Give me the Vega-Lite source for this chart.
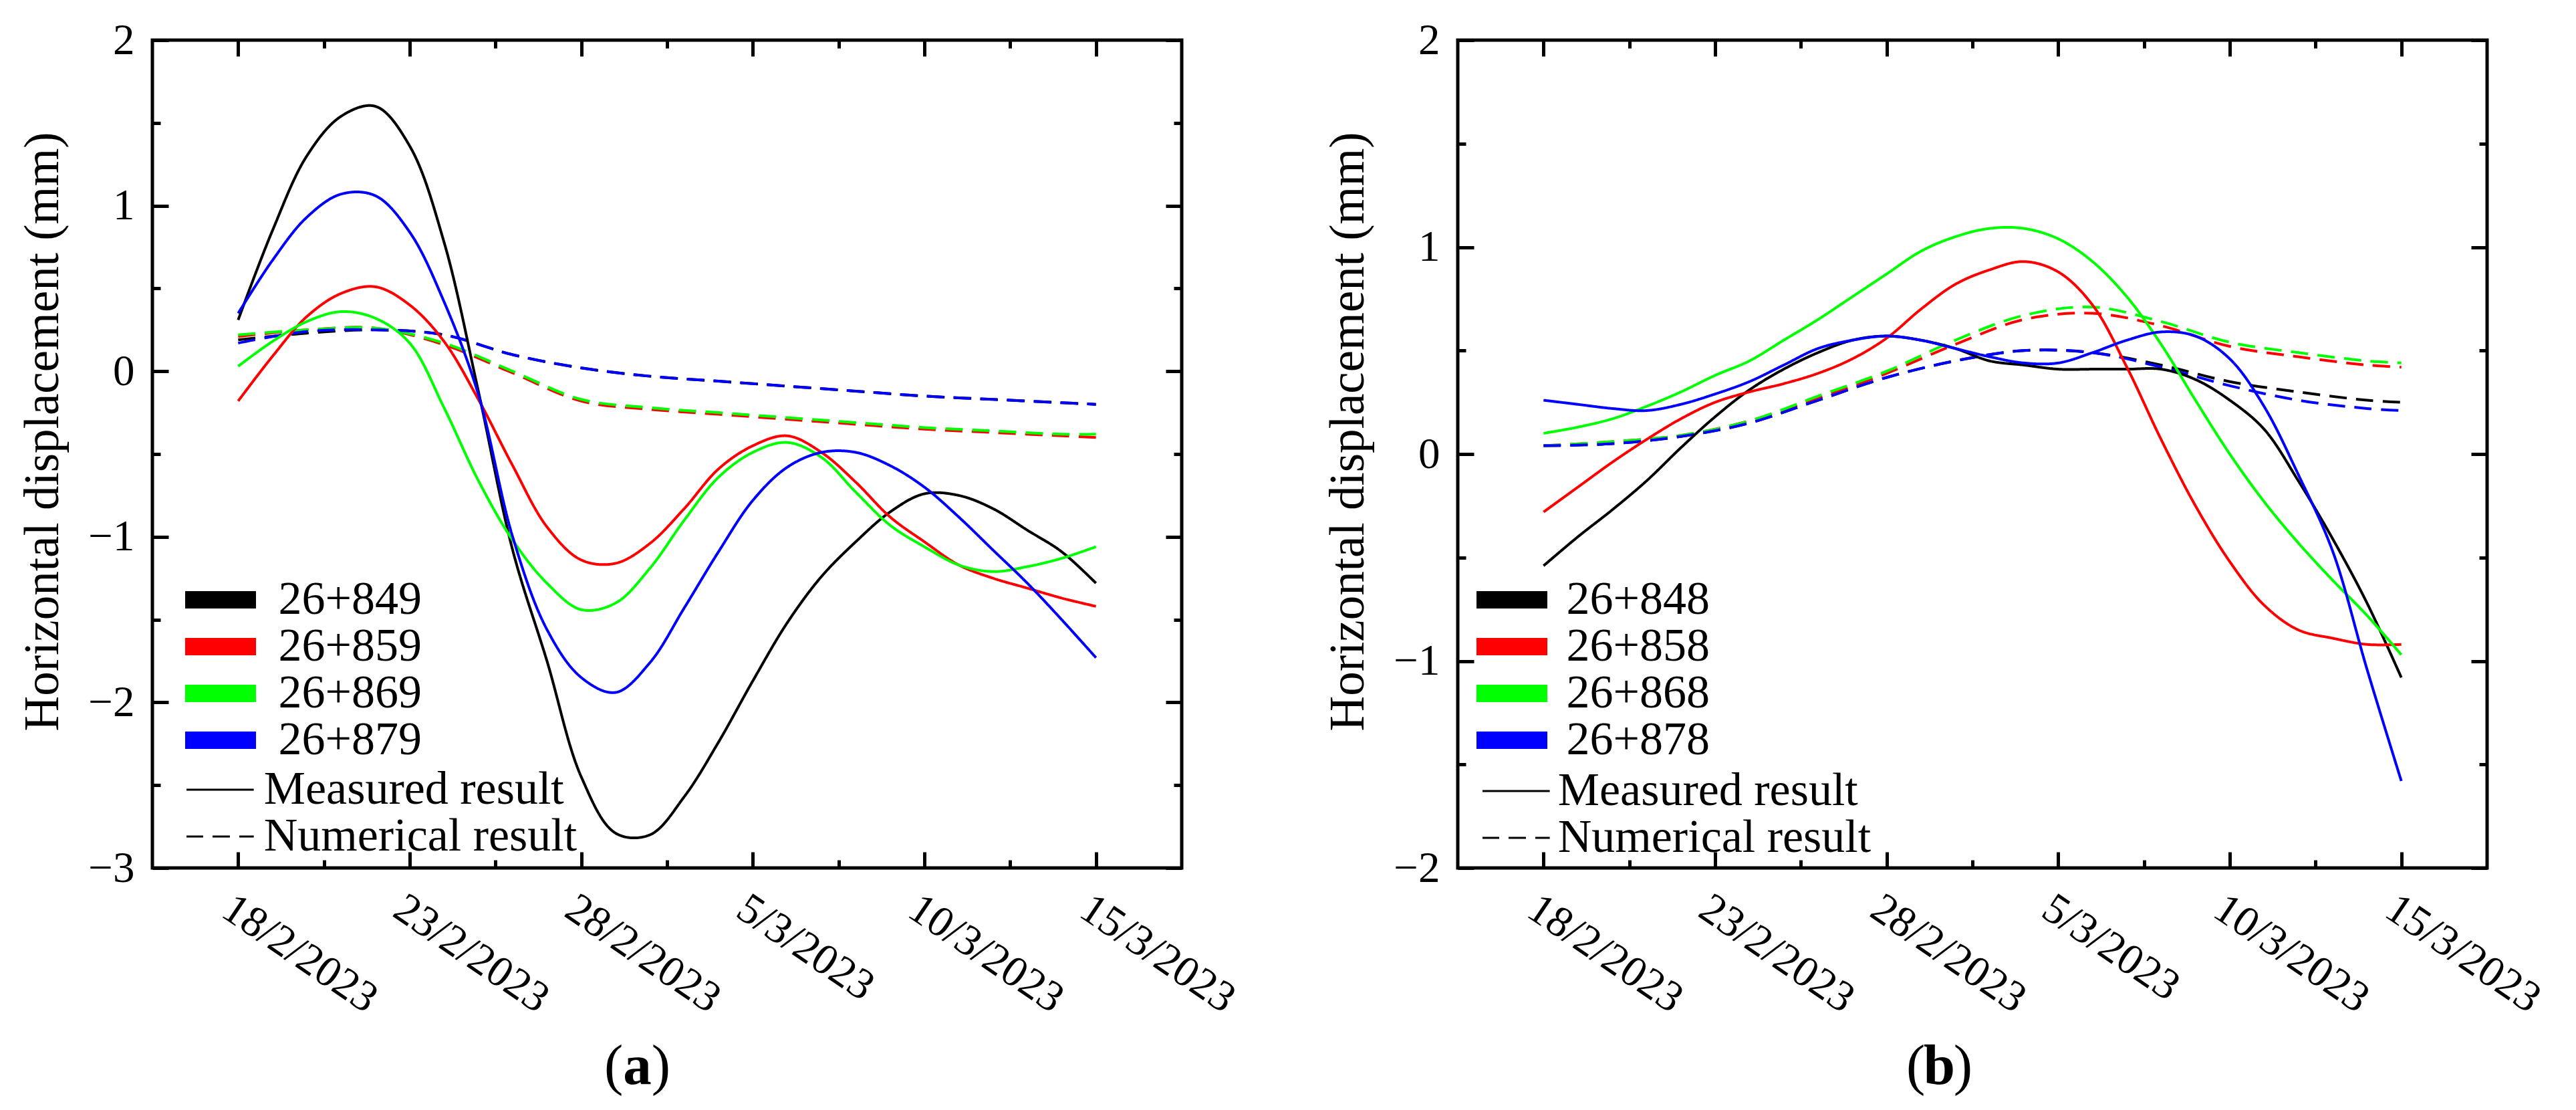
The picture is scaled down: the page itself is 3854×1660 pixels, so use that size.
{
  "$schema": "https://vega.github.io/schema/vega-lite/v6.json",
  "background": "white",
  "padding": {"left": 26, "top": 25, "right": 10, "bottom": 10},
  "bounds": "flush",
  "spacing": 413,
  "datasets": {
    "a": [
      {"date": "2023-02-18", "station": "26+849", "result": "Numerical result", "value": 0.19},
      {"date": "2023-02-20", "station": "26+849", "result": "Numerical result", "value": 0.23},
      {"date": "2023-02-22", "station": "26+849", "result": "Numerical result", "value": 0.25},
      {"date": "2023-02-24", "station": "26+849", "result": "Numerical result", "value": 0.22},
      {"date": "2023-02-26", "station": "26+849", "result": "Numerical result", "value": 0.10},
      {"date": "2023-02-28", "station": "26+849", "result": "Numerical result", "value": 0.02},
      {"date": "2023-03-02", "station": "26+849", "result": "Numerical result", "value": -0.03},
      {"date": "2023-03-04", "station": "26+849", "result": "Numerical result", "value": -0.06},
      {"date": "2023-03-06", "station": "26+849", "result": "Numerical result", "value": -0.09},
      {"date": "2023-03-08", "station": "26+849", "result": "Numerical result", "value": -0.12},
      {"date": "2023-03-10", "station": "26+849", "result": "Numerical result", "value": -0.15},
      {"date": "2023-03-12", "station": "26+849", "result": "Numerical result", "value": -0.17},
      {"date": "2023-03-14", "station": "26+849", "result": "Numerical result", "value": -0.19},
      {"date": "2023-03-15", "station": "26+849", "result": "Numerical result", "value": -0.20},
      {"date": "2023-02-18", "station": "26+859", "result": "Numerical result", "value": 0.21},
      {"date": "2023-02-20", "station": "26+859", "result": "Numerical result", "value": 0.25},
      {"date": "2023-02-22", "station": "26+859", "result": "Numerical result", "value": 0.26},
      {"date": "2023-02-24", "station": "26+859", "result": "Numerical result", "value": 0.16},
      {"date": "2023-02-26", "station": "26+859", "result": "Numerical result", "value": -0.01},
      {"date": "2023-02-28", "station": "26+859", "result": "Numerical result", "value": -0.18},
      {"date": "2023-03-02", "station": "26+859", "result": "Numerical result", "value": -0.23},
      {"date": "2023-03-04", "station": "26+859", "result": "Numerical result", "value": -0.26},
      {"date": "2023-03-06", "station": "26+859", "result": "Numerical result", "value": -0.29},
      {"date": "2023-03-08", "station": "26+859", "result": "Numerical result", "value": -0.32},
      {"date": "2023-03-10", "station": "26+859", "result": "Numerical result", "value": -0.35},
      {"date": "2023-03-12", "station": "26+859", "result": "Numerical result", "value": -0.37},
      {"date": "2023-03-14", "station": "26+859", "result": "Numerical result", "value": -0.39},
      {"date": "2023-03-15", "station": "26+859", "result": "Numerical result", "value": -0.40},
      {"date": "2023-02-18", "station": "26+869", "result": "Numerical result", "value": 0.22},
      {"date": "2023-02-20", "station": "26+869", "result": "Numerical result", "value": 0.25},
      {"date": "2023-02-22", "station": "26+869", "result": "Numerical result", "value": 0.26},
      {"date": "2023-02-24", "station": "26+869", "result": "Numerical result", "value": 0.17},
      {"date": "2023-02-26", "station": "26+869", "result": "Numerical result", "value": 0.00},
      {"date": "2023-02-28", "station": "26+869", "result": "Numerical result", "value": -0.17},
      {"date": "2023-03-02", "station": "26+869", "result": "Numerical result", "value": -0.22},
      {"date": "2023-03-04", "station": "26+869", "result": "Numerical result", "value": -0.25},
      {"date": "2023-03-06", "station": "26+869", "result": "Numerical result", "value": -0.28},
      {"date": "2023-03-08", "station": "26+869", "result": "Numerical result", "value": -0.31},
      {"date": "2023-03-10", "station": "26+869", "result": "Numerical result", "value": -0.34},
      {"date": "2023-03-12", "station": "26+869", "result": "Numerical result", "value": -0.36},
      {"date": "2023-03-14", "station": "26+869", "result": "Numerical result", "value": -0.38},
      {"date": "2023-03-15", "station": "26+869", "result": "Numerical result", "value": -0.38},
      {"date": "2023-02-18", "station": "26+879", "result": "Numerical result", "value": 0.17},
      {"date": "2023-02-20", "station": "26+879", "result": "Numerical result", "value": 0.24},
      {"date": "2023-02-22", "station": "26+879", "result": "Numerical result", "value": 0.25},
      {"date": "2023-02-24", "station": "26+879", "result": "Numerical result", "value": 0.22},
      {"date": "2023-02-26", "station": "26+879", "result": "Numerical result", "value": 0.10},
      {"date": "2023-02-28", "station": "26+879", "result": "Numerical result", "value": 0.02},
      {"date": "2023-03-02", "station": "26+879", "result": "Numerical result", "value": -0.03},
      {"date": "2023-03-04", "station": "26+879", "result": "Numerical result", "value": -0.06},
      {"date": "2023-03-06", "station": "26+879", "result": "Numerical result", "value": -0.09},
      {"date": "2023-03-08", "station": "26+879", "result": "Numerical result", "value": -0.12},
      {"date": "2023-03-10", "station": "26+879", "result": "Numerical result", "value": -0.15},
      {"date": "2023-03-12", "station": "26+879", "result": "Numerical result", "value": -0.17},
      {"date": "2023-03-14", "station": "26+879", "result": "Numerical result", "value": -0.19},
      {"date": "2023-03-15", "station": "26+879", "result": "Numerical result", "value": -0.20},
      {"date": "2023-02-18", "station": "26+849", "result": "Measured result", "value": 0.31},
      {"date": "2023-02-19", "station": "26+849", "result": "Measured result", "value": 0.85},
      {"date": "2023-02-20", "station": "26+849", "result": "Measured result", "value": 1.30},
      {"date": "2023-02-21", "station": "26+849", "result": "Measured result", "value": 1.54},
      {"date": "2023-02-22", "station": "26+849", "result": "Measured result", "value": 1.60},
      {"date": "2023-02-23", "station": "26+849", "result": "Measured result", "value": 1.36},
      {"date": "2023-02-24", "station": "26+849", "result": "Measured result", "value": 0.78},
      {"date": "2023-02-25", "station": "26+849", "result": "Measured result", "value": -0.12},
      {"date": "2023-02-26", "station": "26+849", "result": "Measured result", "value": -1.08},
      {"date": "2023-02-27", "station": "26+849", "result": "Measured result", "value": -1.75},
      {"date": "2023-02-28", "station": "26+849", "result": "Measured result", "value": -2.45},
      {"date": "2023-03-01", "station": "26+849", "result": "Measured result", "value": -2.79},
      {"date": "2023-03-02", "station": "26+849", "result": "Measured result", "value": -2.80},
      {"date": "2023-03-03", "station": "26+849", "result": "Measured result", "value": -2.57},
      {"date": "2023-03-04", "station": "26+849", "result": "Measured result", "value": -2.24},
      {"date": "2023-03-05", "station": "26+849", "result": "Measured result", "value": -1.87},
      {"date": "2023-03-06", "station": "26+849", "result": "Measured result", "value": -1.52},
      {"date": "2023-03-07", "station": "26+849", "result": "Measured result", "value": -1.24},
      {"date": "2023-03-08", "station": "26+849", "result": "Measured result", "value": -1.03},
      {"date": "2023-03-09", "station": "26+849", "result": "Measured result", "value": -0.85},
      {"date": "2023-03-10", "station": "26+849", "result": "Measured result", "value": -0.74},
      {"date": "2023-03-11", "station": "26+849", "result": "Measured result", "value": -0.75},
      {"date": "2023-03-12", "station": "26+849", "result": "Measured result", "value": -0.83},
      {"date": "2023-03-13", "station": "26+849", "result": "Measured result", "value": -0.96},
      {"date": "2023-03-14", "station": "26+849", "result": "Measured result", "value": -1.09},
      {"date": "2023-03-15", "station": "26+849", "result": "Measured result", "value": -1.28},
      {"date": "2023-02-18", "station": "26+859", "result": "Measured result", "value": -0.18},
      {"date": "2023-02-19", "station": "26+859", "result": "Measured result", "value": 0.09},
      {"date": "2023-02-20", "station": "26+859", "result": "Measured result", "value": 0.33},
      {"date": "2023-02-21", "station": "26+859", "result": "Measured result", "value": 0.47},
      {"date": "2023-02-22", "station": "26+859", "result": "Measured result", "value": 0.51},
      {"date": "2023-02-23", "station": "26+859", "result": "Measured result", "value": 0.40},
      {"date": "2023-02-24", "station": "26+859", "result": "Measured result", "value": 0.18},
      {"date": "2023-02-25", "station": "26+859", "result": "Measured result", "value": -0.17},
      {"date": "2023-02-26", "station": "26+859", "result": "Measured result", "value": -0.57},
      {"date": "2023-02-27", "station": "26+859", "result": "Measured result", "value": -0.94},
      {"date": "2023-02-28", "station": "26+859", "result": "Measured result", "value": -1.14},
      {"date": "2023-03-01", "station": "26+859", "result": "Measured result", "value": -1.16},
      {"date": "2023-03-02", "station": "26+859", "result": "Measured result", "value": -1.04},
      {"date": "2023-03-03", "station": "26+859", "result": "Measured result", "value": -0.83},
      {"date": "2023-03-04", "station": "26+859", "result": "Measured result", "value": -0.59},
      {"date": "2023-03-05", "station": "26+859", "result": "Measured result", "value": -0.45},
      {"date": "2023-03-06", "station": "26+859", "result": "Measured result", "value": -0.39},
      {"date": "2023-03-07", "station": "26+859", "result": "Measured result", "value": -0.49},
      {"date": "2023-03-08", "station": "26+859", "result": "Measured result", "value": -0.67},
      {"date": "2023-03-09", "station": "26+859", "result": "Measured result", "value": -0.88},
      {"date": "2023-03-10", "station": "26+859", "result": "Measured result", "value": -1.03},
      {"date": "2023-03-11", "station": "26+859", "result": "Measured result", "value": -1.17},
      {"date": "2023-03-12", "station": "26+859", "result": "Measured result", "value": -1.25},
      {"date": "2023-03-13", "station": "26+859", "result": "Measured result", "value": -1.31},
      {"date": "2023-03-14", "station": "26+859", "result": "Measured result", "value": -1.37},
      {"date": "2023-03-15", "station": "26+859", "result": "Measured result", "value": -1.42},
      {"date": "2023-02-18", "station": "26+869", "result": "Measured result", "value": 0.03},
      {"date": "2023-02-19", "station": "26+869", "result": "Measured result", "value": 0.18},
      {"date": "2023-02-20", "station": "26+869", "result": "Measured result", "value": 0.30},
      {"date": "2023-02-21", "station": "26+869", "result": "Measured result", "value": 0.36},
      {"date": "2023-02-22", "station": "26+869", "result": "Measured result", "value": 0.32},
      {"date": "2023-02-23", "station": "26+869", "result": "Measured result", "value": 0.17},
      {"date": "2023-02-24", "station": "26+869", "result": "Measured result", "value": -0.22},
      {"date": "2023-02-25", "station": "26+869", "result": "Measured result", "value": -0.66},
      {"date": "2023-02-26", "station": "26+869", "result": "Measured result", "value": -1.02},
      {"date": "2023-02-27", "station": "26+869", "result": "Measured result", "value": -1.28},
      {"date": "2023-02-28", "station": "26+869", "result": "Measured result", "value": -1.44},
      {"date": "2023-03-01", "station": "26+869", "result": "Measured result", "value": -1.40},
      {"date": "2023-03-02", "station": "26+869", "result": "Measured result", "value": -1.19},
      {"date": "2023-03-03", "station": "26+869", "result": "Measured result", "value": -0.90},
      {"date": "2023-03-04", "station": "26+869", "result": "Measured result", "value": -0.64},
      {"date": "2023-03-05", "station": "26+869", "result": "Measured result", "value": -0.49},
      {"date": "2023-03-06", "station": "26+869", "result": "Measured result", "value": -0.43},
      {"date": "2023-03-07", "station": "26+869", "result": "Measured result", "value": -0.52},
      {"date": "2023-03-08", "station": "26+869", "result": "Measured result", "value": -0.73},
      {"date": "2023-03-09", "station": "26+869", "result": "Measured result", "value": -0.93},
      {"date": "2023-03-10", "station": "26+869", "result": "Measured result", "value": -1.06},
      {"date": "2023-03-11", "station": "26+869", "result": "Measured result", "value": -1.17},
      {"date": "2023-03-12", "station": "26+869", "result": "Measured result", "value": -1.21},
      {"date": "2023-03-13", "station": "26+869", "result": "Measured result", "value": -1.18},
      {"date": "2023-03-14", "station": "26+869", "result": "Measured result", "value": -1.13},
      {"date": "2023-03-15", "station": "26+869", "result": "Measured result", "value": -1.06},
      {"date": "2023-02-18", "station": "26+879", "result": "Measured result", "value": 0.35},
      {"date": "2023-02-19", "station": "26+879", "result": "Measured result", "value": 0.67},
      {"date": "2023-02-20", "station": "26+879", "result": "Measured result", "value": 0.93},
      {"date": "2023-02-21", "station": "26+879", "result": "Measured result", "value": 1.07},
      {"date": "2023-02-22", "station": "26+879", "result": "Measured result", "value": 1.06},
      {"date": "2023-02-23", "station": "26+879", "result": "Measured result", "value": 0.84},
      {"date": "2023-02-24", "station": "26+879", "result": "Measured result", "value": 0.42},
      {"date": "2023-02-25", "station": "26+879", "result": "Measured result", "value": -0.14},
      {"date": "2023-02-26", "station": "26+879", "result": "Measured result", "value": -1.00},
      {"date": "2023-02-27", "station": "26+879", "result": "Measured result", "value": -1.56},
      {"date": "2023-02-28", "station": "26+879", "result": "Measured result", "value": -1.85},
      {"date": "2023-03-01", "station": "26+879", "result": "Measured result", "value": -1.94},
      {"date": "2023-03-02", "station": "26+879", "result": "Measured result", "value": -1.76},
      {"date": "2023-03-03", "station": "26+879", "result": "Measured result", "value": -1.43},
      {"date": "2023-03-04", "station": "26+879", "result": "Measured result", "value": -1.09},
      {"date": "2023-03-05", "station": "26+879", "result": "Measured result", "value": -0.78},
      {"date": "2023-03-06", "station": "26+879", "result": "Measured result", "value": -0.58},
      {"date": "2023-03-07", "station": "26+879", "result": "Measured result", "value": -0.49},
      {"date": "2023-03-08", "station": "26+879", "result": "Measured result", "value": -0.49},
      {"date": "2023-03-09", "station": "26+879", "result": "Measured result", "value": -0.57},
      {"date": "2023-03-10", "station": "26+879", "result": "Measured result", "value": -0.70},
      {"date": "2023-03-11", "station": "26+879", "result": "Measured result", "value": -0.88},
      {"date": "2023-03-12", "station": "26+879", "result": "Measured result", "value": -1.08},
      {"date": "2023-03-13", "station": "26+879", "result": "Measured result", "value": -1.28},
      {"date": "2023-03-14", "station": "26+879", "result": "Measured result", "value": -1.50},
      {"date": "2023-03-15", "station": "26+879", "result": "Measured result", "value": -1.73}
    ],
    "b": [
      {"date": "2023-02-18", "station": "26+848", "result": "Numerical result", "value": 0.04},
      {"date": "2023-02-20", "station": "26+848", "result": "Numerical result", "value": 0.05},
      {"date": "2023-02-22", "station": "26+848", "result": "Numerical result", "value": 0.085},
      {"date": "2023-02-24", "station": "26+848", "result": "Numerical result", "value": 0.15},
      {"date": "2023-02-26", "station": "26+848", "result": "Numerical result", "value": 0.26},
      {"date": "2023-02-28", "station": "26+848", "result": "Numerical result", "value": 0.37},
      {"date": "2023-03-02", "station": "26+848", "result": "Numerical result", "value": 0.45},
      {"date": "2023-03-04", "station": "26+848", "result": "Numerical result", "value": 0.50},
      {"date": "2023-03-06", "station": "26+848", "result": "Numerical result", "value": 0.49},
      {"date": "2023-03-08", "station": "26+848", "result": "Numerical result", "value": 0.43},
      {"date": "2023-03-10", "station": "26+848", "result": "Numerical result", "value": 0.35},
      {"date": "2023-03-12", "station": "26+848", "result": "Numerical result", "value": 0.30},
      {"date": "2023-03-14", "station": "26+848", "result": "Numerical result", "value": 0.26},
      {"date": "2023-03-15", "station": "26+848", "result": "Numerical result", "value": 0.25},
      {"date": "2023-02-18", "station": "26+858", "result": "Numerical result", "value": 0.04},
      {"date": "2023-02-20", "station": "26+858", "result": "Numerical result", "value": 0.06},
      {"date": "2023-02-22", "station": "26+858", "result": "Numerical result", "value": 0.09},
      {"date": "2023-02-24", "station": "26+858", "result": "Numerical result", "value": 0.16},
      {"date": "2023-02-26", "station": "26+858", "result": "Numerical result", "value": 0.27},
      {"date": "2023-02-28", "station": "26+858", "result": "Numerical result", "value": 0.39},
      {"date": "2023-03-02", "station": "26+858", "result": "Numerical result", "value": 0.53},
      {"date": "2023-03-04", "station": "26+858", "result": "Numerical result", "value": 0.65},
      {"date": "2023-03-06", "station": "26+858", "result": "Numerical result", "value": 0.68},
      {"date": "2023-03-08", "station": "26+858", "result": "Numerical result", "value": 0.62},
      {"date": "2023-03-10", "station": "26+858", "result": "Numerical result", "value": 0.52},
      {"date": "2023-03-12", "station": "26+858", "result": "Numerical result", "value": 0.47},
      {"date": "2023-03-14", "station": "26+858", "result": "Numerical result", "value": 0.43},
      {"date": "2023-03-15", "station": "26+858", "result": "Numerical result", "value": 0.42},
      {"date": "2023-02-18", "station": "26+868", "result": "Numerical result", "value": 0.04},
      {"date": "2023-02-20", "station": "26+868", "result": "Numerical result", "value": 0.06},
      {"date": "2023-02-22", "station": "26+868", "result": "Numerical result", "value": 0.09},
      {"date": "2023-02-24", "station": "26+868", "result": "Numerical result", "value": 0.16},
      {"date": "2023-02-26", "station": "26+868", "result": "Numerical result", "value": 0.28},
      {"date": "2023-02-28", "station": "26+868", "result": "Numerical result", "value": 0.40},
      {"date": "2023-03-02", "station": "26+868", "result": "Numerical result", "value": 0.55},
      {"date": "2023-03-04", "station": "26+868", "result": "Numerical result", "value": 0.67},
      {"date": "2023-03-06", "station": "26+868", "result": "Numerical result", "value": 0.71},
      {"date": "2023-03-08", "station": "26+868", "result": "Numerical result", "value": 0.64},
      {"date": "2023-03-10", "station": "26+868", "result": "Numerical result", "value": 0.54},
      {"date": "2023-03-12", "station": "26+868", "result": "Numerical result", "value": 0.49},
      {"date": "2023-03-14", "station": "26+868", "result": "Numerical result", "value": 0.45},
      {"date": "2023-03-15", "station": "26+868", "result": "Numerical result", "value": 0.44},
      {"date": "2023-02-18", "station": "26+878", "result": "Numerical result", "value": 0.04},
      {"date": "2023-02-20", "station": "26+878", "result": "Numerical result", "value": 0.05},
      {"date": "2023-02-22", "station": "26+878", "result": "Numerical result", "value": 0.085},
      {"date": "2023-02-24", "station": "26+878", "result": "Numerical result", "value": 0.15},
      {"date": "2023-02-26", "station": "26+878", "result": "Numerical result", "value": 0.26},
      {"date": "2023-02-28", "station": "26+878", "result": "Numerical result", "value": 0.37},
      {"date": "2023-03-02", "station": "26+878", "result": "Numerical result", "value": 0.45},
      {"date": "2023-03-04", "station": "26+878", "result": "Numerical result", "value": 0.50},
      {"date": "2023-03-06", "station": "26+878", "result": "Numerical result", "value": 0.49},
      {"date": "2023-03-08", "station": "26+878", "result": "Numerical result", "value": 0.42},
      {"date": "2023-03-10", "station": "26+878", "result": "Numerical result", "value": 0.33},
      {"date": "2023-03-12", "station": "26+878", "result": "Numerical result", "value": 0.26},
      {"date": "2023-03-14", "station": "26+878", "result": "Numerical result", "value": 0.22},
      {"date": "2023-03-15", "station": "26+878", "result": "Numerical result", "value": 0.21},
      {"date": "2023-02-18", "station": "26+848", "result": "Measured result", "value": -0.54},
      {"date": "2023-02-19", "station": "26+848", "result": "Measured result", "value": -0.40},
      {"date": "2023-02-20", "station": "26+848", "result": "Measured result", "value": -0.27},
      {"date": "2023-02-21", "station": "26+848", "result": "Measured result", "value": -0.13},
      {"date": "2023-02-22", "station": "26+848", "result": "Measured result", "value": 0.03},
      {"date": "2023-02-23", "station": "26+848", "result": "Measured result", "value": 0.18},
      {"date": "2023-02-24", "station": "26+848", "result": "Measured result", "value": 0.31},
      {"date": "2023-02-25", "station": "26+848", "result": "Measured result", "value": 0.41},
      {"date": "2023-02-26", "station": "26+848", "result": "Measured result", "value": 0.49},
      {"date": "2023-02-27", "station": "26+848", "result": "Measured result", "value": 0.55},
      {"date": "2023-02-28", "station": "26+848", "result": "Measured result", "value": 0.57},
      {"date": "2023-03-01", "station": "26+848", "result": "Measured result", "value": 0.55},
      {"date": "2023-03-02", "station": "26+848", "result": "Measured result", "value": 0.51},
      {"date": "2023-03-03", "station": "26+848", "result": "Measured result", "value": 0.45},
      {"date": "2023-03-04", "station": "26+848", "result": "Measured result", "value": 0.43},
      {"date": "2023-03-05", "station": "26+848", "result": "Measured result", "value": 0.41},
      {"date": "2023-03-06", "station": "26+848", "result": "Measured result", "value": 0.41},
      {"date": "2023-03-07", "station": "26+848", "result": "Measured result", "value": 0.41},
      {"date": "2023-03-08", "station": "26+848", "result": "Measured result", "value": 0.41},
      {"date": "2023-03-09", "station": "26+848", "result": "Measured result", "value": 0.36},
      {"date": "2023-03-10", "station": "26+848", "result": "Measured result", "value": 0.26},
      {"date": "2023-03-11", "station": "26+848", "result": "Measured result", "value": 0.12},
      {"date": "2023-03-12", "station": "26+848", "result": "Measured result", "value": -0.13},
      {"date": "2023-03-13", "station": "26+848", "result": "Measured result", "value": -0.41},
      {"date": "2023-03-14", "station": "26+848", "result": "Measured result", "value": -0.72},
      {"date": "2023-03-15", "station": "26+848", "result": "Measured result", "value": -1.08},
      {"date": "2023-02-18", "station": "26+858", "result": "Measured result", "value": -0.28},
      {"date": "2023-02-19", "station": "26+858", "result": "Measured result", "value": -0.16},
      {"date": "2023-02-20", "station": "26+858", "result": "Measured result", "value": -0.04},
      {"date": "2023-02-21", "station": "26+858", "result": "Measured result", "value": 0.07},
      {"date": "2023-02-22", "station": "26+858", "result": "Measured result", "value": 0.17},
      {"date": "2023-02-23", "station": "26+858", "result": "Measured result", "value": 0.25},
      {"date": "2023-02-24", "station": "26+858", "result": "Measured result", "value": 0.30},
      {"date": "2023-02-25", "station": "26+858", "result": "Measured result", "value": 0.34},
      {"date": "2023-02-26", "station": "26+858", "result": "Measured result", "value": 0.39},
      {"date": "2023-02-27", "station": "26+858", "result": "Measured result", "value": 0.46},
      {"date": "2023-02-28", "station": "26+858", "result": "Measured result", "value": 0.56},
      {"date": "2023-03-01", "station": "26+858", "result": "Measured result", "value": 0.70},
      {"date": "2023-03-02", "station": "26+858", "result": "Measured result", "value": 0.82},
      {"date": "2023-03-03", "station": "26+858", "result": "Measured result", "value": 0.89},
      {"date": "2023-03-04", "station": "26+858", "result": "Measured result", "value": 0.93},
      {"date": "2023-03-05", "station": "26+858", "result": "Measured result", "value": 0.88},
      {"date": "2023-03-06", "station": "26+858", "result": "Measured result", "value": 0.72},
      {"date": "2023-03-07", "station": "26+858", "result": "Measured result", "value": 0.42},
      {"date": "2023-03-08", "station": "26+858", "result": "Measured result", "value": 0.07},
      {"date": "2023-03-09", "station": "26+858", "result": "Measured result", "value": -0.25},
      {"date": "2023-03-10", "station": "26+858", "result": "Measured result", "value": -0.52},
      {"date": "2023-03-11", "station": "26+858", "result": "Measured result", "value": -0.73},
      {"date": "2023-03-12", "station": "26+858", "result": "Measured result", "value": -0.85},
      {"date": "2023-03-13", "station": "26+858", "result": "Measured result", "value": -0.89},
      {"date": "2023-03-14", "station": "26+858", "result": "Measured result", "value": -0.92},
      {"date": "2023-03-15", "station": "26+858", "result": "Measured result", "value": -0.92},
      {"date": "2023-02-18", "station": "26+868", "result": "Measured result", "value": 0.10},
      {"date": "2023-02-19", "station": "26+868", "result": "Measured result", "value": 0.13},
      {"date": "2023-02-20", "station": "26+868", "result": "Measured result", "value": 0.17},
      {"date": "2023-02-21", "station": "26+868", "result": "Measured result", "value": 0.23},
      {"date": "2023-02-22", "station": "26+868", "result": "Measured result", "value": 0.30},
      {"date": "2023-02-23", "station": "26+868", "result": "Measured result", "value": 0.38},
      {"date": "2023-02-24", "station": "26+868", "result": "Measured result", "value": 0.45},
      {"date": "2023-02-25", "station": "26+868", "result": "Measured result", "value": 0.55},
      {"date": "2023-02-26", "station": "26+868", "result": "Measured result", "value": 0.65},
      {"date": "2023-02-27", "station": "26+868", "result": "Measured result", "value": 0.76},
      {"date": "2023-02-28", "station": "26+868", "result": "Measured result", "value": 0.87},
      {"date": "2023-03-01", "station": "26+868", "result": "Measured result", "value": 0.98},
      {"date": "2023-03-02", "station": "26+868", "result": "Measured result", "value": 1.05},
      {"date": "2023-03-03", "station": "26+868", "result": "Measured result", "value": 1.09},
      {"date": "2023-03-04", "station": "26+868", "result": "Measured result", "value": 1.09},
      {"date": "2023-03-05", "station": "26+868", "result": "Measured result", "value": 1.04},
      {"date": "2023-03-06", "station": "26+868", "result": "Measured result", "value": 0.93},
      {"date": "2023-03-07", "station": "26+868", "result": "Measured result", "value": 0.76},
      {"date": "2023-03-08", "station": "26+868", "result": "Measured result", "value": 0.53},
      {"date": "2023-03-09", "station": "26+868", "result": "Measured result", "value": 0.26},
      {"date": "2023-03-10", "station": "26+868", "result": "Measured result", "value": 0.00},
      {"date": "2023-03-11", "station": "26+868", "result": "Measured result", "value": -0.23},
      {"date": "2023-03-12", "station": "26+868", "result": "Measured result", "value": -0.43},
      {"date": "2023-03-13", "station": "26+868", "result": "Measured result", "value": -0.61},
      {"date": "2023-03-14", "station": "26+868", "result": "Measured result", "value": -0.78},
      {"date": "2023-03-15", "station": "26+868", "result": "Measured result", "value": -0.97},
      {"date": "2023-02-18", "station": "26+878", "result": "Measured result", "value": 0.26},
      {"date": "2023-02-19", "station": "26+878", "result": "Measured result", "value": 0.24},
      {"date": "2023-02-20", "station": "26+878", "result": "Measured result", "value": 0.22},
      {"date": "2023-02-21", "station": "26+878", "result": "Measured result", "value": 0.21},
      {"date": "2023-02-22", "station": "26+878", "result": "Measured result", "value": 0.24},
      {"date": "2023-02-23", "station": "26+878", "result": "Measured result", "value": 0.29},
      {"date": "2023-02-24", "station": "26+878", "result": "Measured result", "value": 0.35},
      {"date": "2023-02-25", "station": "26+878", "result": "Measured result", "value": 0.43},
      {"date": "2023-02-26", "station": "26+878", "result": "Measured result", "value": 0.51},
      {"date": "2023-02-27", "station": "26+878", "result": "Measured result", "value": 0.55},
      {"date": "2023-02-28", "station": "26+878", "result": "Measured result", "value": 0.57},
      {"date": "2023-03-01", "station": "26+878", "result": "Measured result", "value": 0.55},
      {"date": "2023-03-02", "station": "26+878", "result": "Measured result", "value": 0.51},
      {"date": "2023-03-03", "station": "26+878", "result": "Measured result", "value": 0.47},
      {"date": "2023-03-04", "station": "26+878", "result": "Measured result", "value": 0.44},
      {"date": "2023-03-05", "station": "26+878", "result": "Measured result", "value": 0.44},
      {"date": "2023-03-06", "station": "26+878", "result": "Measured result", "value": 0.49},
      {"date": "2023-03-07", "station": "26+878", "result": "Measured result", "value": 0.55},
      {"date": "2023-03-08", "station": "26+878", "result": "Measured result", "value": 0.59},
      {"date": "2023-03-09", "station": "26+878", "result": "Measured result", "value": 0.57},
      {"date": "2023-03-10", "station": "26+878", "result": "Measured result", "value": 0.46},
      {"date": "2023-03-11", "station": "26+878", "result": "Measured result", "value": 0.23},
      {"date": "2023-03-12", "station": "26+878", "result": "Measured result", "value": -0.10},
      {"date": "2023-03-13", "station": "26+878", "result": "Measured result", "value": -0.47},
      {"date": "2023-03-14", "station": "26+878", "result": "Measured result", "value": -1.04},
      {"date": "2023-03-15", "station": "26+878", "result": "Measured result", "value": -1.58}
    ]
  },
  "hconcat": [
    {
      "width": 1540,
      "height": 1238,
      "data": {"name": "a"},
      "layer": [
        {
          "mark": {"type": "line", "interpolate": "catmull-rom", "strokeWidth": 4},
          "encoding": {
            "x": {
              "field": "date", "type": "temporal",
              "scale": {"type": "utc", "domain": [{"year": 2023, "month": 2, "date": 15, "hours": 12, "utc": true}, {"year": 2023, "month": 3, "date": 17, "hours": 12, "utc": true}]},
              "axis": {
                "orient": "bottom",
                "values": [
                  {"year": 2023, "month": 2, "date": 18, "utc": true},
                  {"year": 2023, "month": 2, "date": 20, "hours": 12, "utc": true},
                  {"year": 2023, "month": 2, "date": 23, "utc": true},
                  {"year": 2023, "month": 2, "date": 25, "hours": 12, "utc": true},
                  {"year": 2023, "month": 2, "date": 28, "utc": true},
                  {"year": 2023, "month": 3, "date": 2, "hours": 12, "utc": true},
                  {"year": 2023, "month": 3, "date": 5, "utc": true},
                  {"year": 2023, "month": 3, "date": 7, "hours": 12, "utc": true},
                  {"year": 2023, "month": 3, "date": 10, "utc": true},
                  {"year": 2023, "month": 3, "date": 12, "hours": 12, "utc": true},
                  {"year": 2023, "month": 3, "date": 15, "utc": true}
                ],
                "labelExpr": "utchours(datum.value) == 12 ? '' : utcFormat(datum.value, '%-d/%-m/%Y')",
                "labelAngle": 34, "labelAlign": "left", "labelBaseline": "top", "labelPadding": 52,
                "tickSize": {"condition": {"test": "utchours(datum.value) == 12", "value": -12}, "value": -24},
                "title": "(\u2002)", "titleFontSize": 85, "titleAlign": "center", "titleBaseline": "middle", "titleX": 725, "titleY": 296
              }
            },
            "y": {
              "field": "value", "type": "quantitative",
              "scale": {"domain": [-3, 2], "nice": false, "zero": false},
              "axis": {
                "orient": "left",
                "values": [-3, -2.5, -2, -1.5, -1, -0.5, 0, 0.5, 1, 1.5, 2],
                "labelExpr": "datum.value % 1 == 0 ? format(datum.value, 'd') : ''",
                "labelPadding": 51,
                "tickSize": {"condition": {"test": "datum.value % 1 != 0", "value": -12}, "value": -24},
                "title": "Horizontal displacement (mm)", "titlePadding": 30, "titleY": 585
              }
            },
            "color": {
              "field": "station", "type": "nominal",
              "scale": {"domain": ["26+849", "26+859", "26+869", "26+879"], "range": ["#000000", "#ff0000", "#00ff00", "#0000ff"]},
              "legend": {"orient": "none", "legendX": 49, "legendY": 808, "direction": "vertical", "title": null, "symbolType": "M-4,0H4", "symbolStrokeWidth": 26, "symbolSize": 716, "symbolOffset": 17.5, "labelFontSize": 70, "labelOffset": 52, "labelLimit": 1000, "clipHeight": 58, "rowPadding": 0, "padding": 0}
            },
            "strokeDash": {
              "field": "result", "type": "nominal",
              "scale": {"domain": ["Measured result", "Numerical result"], "range": [[1, 0], [26, 14]]},
              "legend": {"orient": "none", "legendX": 51, "legendY": 1092, "direction": "vertical", "title": null, "symbolType": "M-3.8,0H3.8", "symbolStrokeWidth": 3, "symbolSize": 716, "symbolOffset": 14.8, "labelFontSize": 70, "labelOffset": 31, "labelLimit": 1000, "clipHeight": 58, "rowPadding": 0, "padding": 0, "symbolStrokeColor": "black"}
            }
          }
        },
        {
          "mark": {"type": "point", "opacity": 0},
          "encoding": {
            "x": {
              "field": "date", "type": "temporal",
              "axis": {
                "orient": "top",
                "values": [
                  {"year": 2023, "month": 2, "date": 18, "utc": true},
                  {"year": 2023, "month": 2, "date": 20, "hours": 12, "utc": true},
                  {"year": 2023, "month": 2, "date": 23, "utc": true},
                  {"year": 2023, "month": 2, "date": 25, "hours": 12, "utc": true},
                  {"year": 2023, "month": 2, "date": 28, "utc": true},
                  {"year": 2023, "month": 3, "date": 2, "hours": 12, "utc": true},
                  {"year": 2023, "month": 3, "date": 5, "utc": true},
                  {"year": 2023, "month": 3, "date": 7, "hours": 12, "utc": true},
                  {"year": 2023, "month": 3, "date": 10, "utc": true},
                  {"year": 2023, "month": 3, "date": 12, "hours": 12, "utc": true},
                  {"year": 2023, "month": 3, "date": 15, "utc": true}
                ],
                "labels": false,
                "tickSize": {"condition": {"test": "utchours(datum.value) == 12", "value": -12}, "value": -24},
                "title": "a", "titleFontSize": 85, "titleFontWeight": "bold", "titleAlign": "center", "titleBaseline": "middle", "titleX": 725, "titleY": 1534
              }
            },
            "y": {
              "field": "value", "type": "quantitative",
              "axis": {
                "orient": "right",
                "values": [-3, -2.5, -2, -1.5, -1, -0.5, 0, 0.5, 1, 1.5, 2],
                "labels": false, "title": null,
                "tickSize": {"condition": {"test": "datum.value % 1 != 0", "value": -12}, "value": -24}
              }
            }
          }
        }
      ],
      "resolve": {"axis": {"x": "independent", "y": "independent"}}
    },
    {
      "width": 1540,
      "height": 1238,
      "data": {"name": "b"},
      "layer": [
        {
          "mark": {"type": "line", "interpolate": "catmull-rom", "strokeWidth": 4},
          "encoding": {
            "x": {
              "field": "date", "type": "temporal",
              "scale": {"type": "utc", "domain": [{"year": 2023, "month": 2, "date": 15, "hours": 12, "utc": true}, {"year": 2023, "month": 3, "date": 17, "hours": 12, "utc": true}]},
              "axis": {
                "orient": "bottom",
                "values": [
                  {"year": 2023, "month": 2, "date": 18, "utc": true},
                  {"year": 2023, "month": 2, "date": 20, "hours": 12, "utc": true},
                  {"year": 2023, "month": 2, "date": 23, "utc": true},
                  {"year": 2023, "month": 2, "date": 25, "hours": 12, "utc": true},
                  {"year": 2023, "month": 2, "date": 28, "utc": true},
                  {"year": 2023, "month": 3, "date": 2, "hours": 12, "utc": true},
                  {"year": 2023, "month": 3, "date": 5, "utc": true},
                  {"year": 2023, "month": 3, "date": 7, "hours": 12, "utc": true},
                  {"year": 2023, "month": 3, "date": 10, "utc": true},
                  {"year": 2023, "month": 3, "date": 12, "hours": 12, "utc": true},
                  {"year": 2023, "month": 3, "date": 15, "utc": true}
                ],
                "labelExpr": "utchours(datum.value) == 12 ? '' : utcFormat(datum.value, '%-d/%-m/%Y')",
                "labelAngle": 34, "labelAlign": "left", "labelBaseline": "top", "labelPadding": 52,
                "tickSize": {"condition": {"test": "utchours(datum.value) == 12", "value": -12}, "value": -24},
                "title": "(\u2002)", "titleFontSize": 85, "titleAlign": "center", "titleBaseline": "middle", "titleX": 720, "titleY": 296
              }
            },
            "y": {
              "field": "value", "type": "quantitative",
              "scale": {"domain": [-2, 2], "nice": false, "zero": false},
              "axis": {
                "orient": "left",
                "values": [-2, -1.5, -1, -0.5, 0, 0.5, 1, 1.5, 2],
                "labelExpr": "datum.value % 1 == 0 ? format(datum.value, 'd') : ''",
                "labelPadding": 51,
                "tickSize": {"condition": {"test": "datum.value % 1 != 0", "value": -12}, "value": -24},
                "title": "Horizontal displacement (mm)", "titlePadding": 30, "titleY": 585
              }
            },
            "color": {
              "field": "station", "type": "nominal",
              "scale": {"domain": ["26+848", "26+858", "26+868", "26+878"], "range": ["#000000", "#ff0000", "#00ff00", "#0000ff"]},
              "legend": {"orient": "none", "legendX": 28, "legendY": 808, "direction": "vertical", "title": null, "symbolType": "M-4,0H4", "symbolStrokeWidth": 26, "symbolSize": 716, "symbolOffset": 17.5, "labelFontSize": 70, "labelOffset": 47, "labelLimit": 1000, "clipHeight": 58, "rowPadding": 0, "padding": 0}
            },
            "strokeDash": {
              "field": "result", "type": "nominal",
              "scale": {"domain": ["Measured result", "Numerical result"], "range": [[1, 0], [26, 14]]},
              "legend": {"orient": "none", "legendX": 37, "legendY": 1094, "direction": "vertical", "title": null, "symbolType": "M-3.8,0H3.8", "symbolStrokeWidth": 3, "symbolSize": 716, "symbolOffset": 14.8, "labelFontSize": 70, "labelOffset": 28, "labelLimit": 1000, "clipHeight": 58, "rowPadding": 0, "padding": 0, "symbolStrokeColor": "black"}
            }
          }
        },
        {
          "mark": {"type": "point", "opacity": 0},
          "encoding": {
            "x": {
              "field": "date", "type": "temporal",
              "axis": {
                "orient": "top",
                "values": [
                  {"year": 2023, "month": 2, "date": 18, "utc": true},
                  {"year": 2023, "month": 2, "date": 20, "hours": 12, "utc": true},
                  {"year": 2023, "month": 2, "date": 23, "utc": true},
                  {"year": 2023, "month": 2, "date": 25, "hours": 12, "utc": true},
                  {"year": 2023, "month": 2, "date": 28, "utc": true},
                  {"year": 2023, "month": 3, "date": 2, "hours": 12, "utc": true},
                  {"year": 2023, "month": 3, "date": 5, "utc": true},
                  {"year": 2023, "month": 3, "date": 7, "hours": 12, "utc": true},
                  {"year": 2023, "month": 3, "date": 10, "utc": true},
                  {"year": 2023, "month": 3, "date": 12, "hours": 12, "utc": true},
                  {"year": 2023, "month": 3, "date": 15, "utc": true}
                ],
                "labels": false,
                "tickSize": {"condition": {"test": "utchours(datum.value) == 12", "value": -12}, "value": -24},
                "title": "b", "titleFontSize": 85, "titleFontWeight": "bold", "titleAlign": "center", "titleBaseline": "middle", "titleX": 720, "titleY": 1534
              }
            },
            "y": {
              "field": "value", "type": "quantitative",
              "axis": {
                "orient": "right",
                "values": [-2, -1.5, -1, -0.5, 0, 0.5, 1, 1.5, 2],
                "labels": false, "title": null,
                "tickSize": {"condition": {"test": "datum.value % 1 != 0", "value": -12}, "value": -24}
              }
            }
          }
        }
      ],
      "resolve": {"axis": {"x": "independent", "y": "independent"}}
    }
  ],
  "resolve": {
    "scale": {"color": "independent", "strokeDash": "independent"},
    "legend": {"color": "independent", "strokeDash": "independent"}
  },
  "config": {
    "font": "Liberation Serif",
    "view": {"stroke": "black", "strokeWidth": 5},
    "axis": {
      "domain": false, "grid": false,
      "tickColor": "black", "tickWidth": 5,
      "labelFont": "Liberation Serif", "labelFontSize": 65, "labelColor": "black", "labelLimit": 1000,
      "labelFlush": false, "labelOverlap": false,
      "titleFont": "Liberation Serif", "titleFontSize": 73, "titleFontWeight": "normal", "titleColor": "black"
    },
    "legend": {"labelFont": "Liberation Serif", "labelColor": "black", "labelLimit": 1000}
  }
}
